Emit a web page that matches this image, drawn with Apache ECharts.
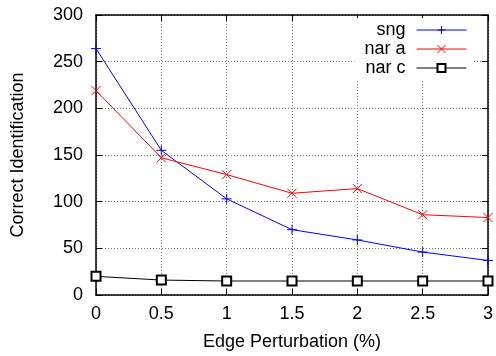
<!DOCTYPE html>
<html>
<head>
<meta charset="utf-8">
<script src="https://cdn.jsdelivr.net/npm/echarts@6/dist/echarts.min.js"></script>
<style>
html,body{margin:0;padding:0;background:#fff;}
#main{width:496px;height:356px;}
</style>
</head>
<body>
<div id="main"></div>
<script>

// data
const xs = [0, 0.5, 1, 1.5, 2, 2.5, 3];

const sng = [264, 155, 103, 70, 59, 46, 37];

const narA = [219, 147, 129, 109, 114, 86, 83];

const narC = [20, 16, 15, 15, 15, 15, 15];


function pairs(vals){

return xs.map((x,i)=>[x, vals[i]]);

}


const font = "Liberation Sans, Arial, Helvetica, sans-serif";

const chart = echarts.init(document.getElementById("main"));


const tickIn = {show:true, inside:true, length:6, lineStyle:{color:"#000", width:1}};

const line = {show:true, onZero:false, lineStyle:{color:"#000", width:1.5}};

const grid = {show:true, lineStyle:{color:"#777", type:[1,2], width:1}};


chart.setOption({

animation:false,

textStyle:{fontFamily:font},

grid:{left:96, right:8, top:15, bottom:60},

legend:{
orient:"vertical",
right:23,
top:18,
align:"right",
itemWidth:50,
itemHeight:10,
itemGap:1,
backgroundColor:"#fff",
padding:[3,6,3,10],
lineStyle:{width:1},
itemStyle:{borderWidth:1},
textStyle:{fontSize:18, color:"#000", fontFamily:font, padding:[0,6,0,0]},
data:["sng","nar a","nar c"]
},

xAxis:[{
type:"value",
min:0,
max:3,
interval:0.5,
name:"Edge Perturbation (%)",
nameLocation:"middle",
nameGap:38,
nameTextStyle:{fontSize:18, color:"#000"},
axisLine:line,
axisTick:tickIn,
axisLabel:{fontSize:18, color:"#000", margin:10},
splitLine:grid
},{
type:"value",
position:"top",
min:0,
max:3,
interval:0.5,
axisLine:line,
axisTick:tickIn,
axisLabel:{show:false},
splitLine:{show:false}
}],

yAxis:[{
type:"value",
min:0,
max:300,
interval:50,
name:"Correct Identification",
nameLocation:"middle",
nameGap:69,
nameTextStyle:{fontSize:18, color:"#000"},
axisLine:line,
axisTick:tickIn,
axisLabel:{fontSize:18, color:"#000", margin:13},
splitLine:grid
},{
type:"value",
position:"right",
min:0,
max:300,
interval:50,
axisLine:line,
axisTick:tickIn,
axisLabel:{show:false},
splitLine:{show:false}
}],

series:[{
name:"sng",
type:"line",
data:pairs(sng),
symbol:"path://M0,5L10,5M5,0L5,10",
symbolSize:10,
lineStyle:{color:"#0000ff", width:1},
itemStyle:{color:"#0000ff", borderColor:"#0000ff", borderWidth:1}
},{
name:"nar a",
type:"line",
data:pairs(narA),
symbol:"path://M0,0L10,10M10,0L0,10",
symbolSize:9,
lineStyle:{color:"#ff0000", width:1},
itemStyle:{color:"#ff0000", borderColor:"#ff0000", borderWidth:1}
},{
name:"nar c",
type:"line",
data:pairs(narC),
symbol:"emptyRect",
symbolSize:9,
lineStyle:{color:"#000", width:1},
itemStyle:{color:"#000", borderColor:"#000", borderWidth:1}
}]

});


window.addEventListener("resize", ()=>chart.resize());

</script>
</body>
</html>
